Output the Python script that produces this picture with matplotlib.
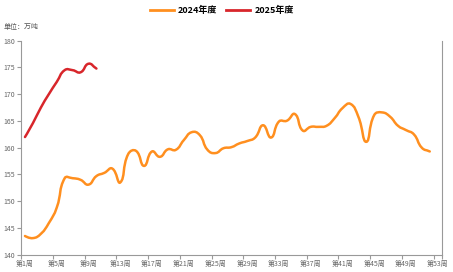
import numpy as np
import matplotlib.pyplot as plt
from matplotlib.path import Path
from matplotlib.patches import PathPatch
from matplotlib.lines import Line2D

plt.rcParams["font.family"] = ["Noto Sans CJK SC", "DejaVu Sans"]

weeks_2024 = list(range(1, 53))
values_2024 = [
    143.5, 143.1, 143.9, 145.9, 148.8, 154.3, 154.3, 154.0, 153.1, 154.7,
    155.3, 156.1, 153.5, 158.8, 159.4, 156.6, 159.3, 158.3, 159.7, 159.6,
    161.4, 162.9, 162.4, 159.6, 159.0, 159.9, 160.1, 160.8, 161.25, 161.9,
    164.2, 161.9, 164.9, 165.05, 166.3, 163.2, 163.9, 163.9, 164.1, 165.5,
    167.4, 168.2, 165.8, 161.1, 166.1, 166.6, 165.8, 164.1, 163.3, 162.5,
    160.0, 159.3,
]
weeks_2025 = list(range(1, 11))
values_2025 = [162.0, 164.6, 167.5, 170.0, 172.3, 174.5, 174.5, 174.1, 175.7, 174.8]

tick_weeks = list(range(1, 54, 4))
tick_labels = [f"第{w}周" for w in tick_weeks]

series = [("2024年度", weeks_2024, values_2024, "#ff8f1f"),
          ("2025年度", weeks_2025, values_2025, "#d8262b")]


def smooth_path(ax, xs, ys, smooth=0.5):
    # echarts-like smoothing, computed in pixel space
    pts = ax.transData.transform(np.column_stack([xs, ys]))
    n = len(pts)
    verts = [pts[0]]
    codes = [Path.MOVETO]
    out_cp = pts[0]
    for i in range(1, n):
        p = pts[i]
        prev = pts[i - 1]
        nxt = pts[i + 1] if i + 1 < n else p
        v = nxt - prev
        d0 = np.hypot(*(p - prev))
        d1 = np.hypot(*(nxt - p))
        r = d1 / (d0 + d1) if d0 + d1 > 0 else 0.5
        in_cp = p - v * smooth * (1 - r)
        verts += [out_cp, in_cp, p]
        codes += [Path.CURVE4] * 3
        out_cp = p + v * smooth * r
    verts = ax.transData.inverted().transform(np.array(verts))
    return Path(verts, codes)


fig = plt.figure(figsize=(4.53, 2.72), dpi=100)
ax = fig.add_axes([0.0464, 0.0636, 0.9286, 0.7866])
ax.set_xlim(0.5, 53.5)
ax.set_ylim(140, 180)

for name, xs, ys, color in series:
    ax.add_patch(PathPatch(smooth_path(ax, xs, ys), fill=False,
                           edgecolor=color, lw=1.8, capstyle="round",
                           joinstyle="round"))

gray = "#999999"
ax.spines["top"].set_visible(False)
for s in ("left", "right", "bottom"):
    ax.spines[s].set_color(gray)
    ax.spines[s].set_linewidth(0.8)

ax.set_yticks(range(140, 181, 5))
ax.tick_params(axis="y", length=3, width=0.8, color=gray, labelsize=5,
               labelcolor="#666666", pad=1.5)
ax.set_xticks([w - 0.5 for w in tick_weeks] + [53.5])
ax.set_xticklabels([])
ax.set_xticks(tick_weeks, minor=True)
ax.set_xticklabels(tick_labels, minor=True)
ax.tick_params(axis="x", which="major", length=3, width=0.8, color=gray)
ax.tick_params(axis="x", which="minor", length=0, labelsize=5,
               labelcolor="#666666", pad=4)

fig.text(0.007, 0.9, "单位：万吨", fontsize=5, color="#555555", va="center")

handles = [Line2D([], [], color=c, lw=2) for _, _, _, c in series]
fig.legend(handles, [s[0] for s in series], loc="center",
           bbox_to_anchor=(0.49, 0.962), ncol=2, frameon=False,
           prop={"size": 6.5, "weight": "bold"}, handlelength=2.6,
           handletextpad=0.5, columnspacing=1.0)

fig.savefig("out.png", dpi=100)
